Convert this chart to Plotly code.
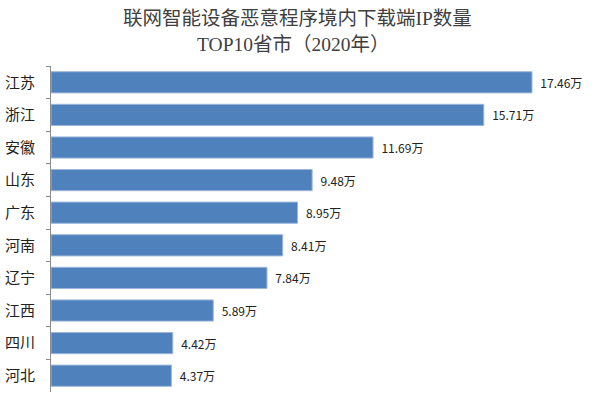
import plotly.graph_objects as go

provinces = ["江苏", "浙江", "安徽", "山东", "广东", "河南", "辽宁", "江西", "四川", "河北"]
values = [17.46, 15.71, 11.69, 9.48, 8.95, 8.41, 7.84, 5.89, 4.42, 4.37]
labels = ["  %.2f万" % v for v in values]
title_line1 = "联网智能设备恶意程序境内下载端IP数量"
title_line2 = "TOP10省市（2020年）"

fig = go.Figure(go.Bar(
    x=values, y=provinces, orientation="h",
    text=labels, textposition="outside", cliponaxis=False,
    textfont=dict(family="Noto Sans CJK SC, Noto Sans", size=12, color="#222222"),
    marker=dict(color="#4f81bd", line=dict(color="#9db7da", width=1)),
    hoverinfo="skip",
))

title_font = dict(family="Liberation Serif, Noto Sans CJK SC", size=19.5, color="#404040")
fig.add_annotation(text=title_line1, xref="paper", yref="paper", x=0.452, y=1.147,
                   xanchor="center", yanchor="middle", showarrow=False, font=title_font)
fig.add_annotation(text=title_line2, xref="paper", yref="paper", x=0.445, y=1.067,
                   xanchor="center", yanchor="middle", showarrow=False, font=title_font)

fig.update_layout(
    width=597, height=393,
    margin=dict(l=51, r=0, t=66, b=1, autoexpand=False),
    paper_bgcolor="white", plot_bgcolor="white",
    bargap=0.35,
    showlegend=False,
    xaxis=dict(range=[0, 19.82], visible=False),
    yaxis=dict(
        autorange="reversed", showline=True, linecolor="#8c8c8c", linewidth=1,
        ticks="outside", tickson="boundaries", ticklen=4, tickcolor="#8c8c8c",
        tickfont=dict(family="Noto Sans CJK SC", size=15, color="#222222"),
        ticklabelstandoff=12, automargin=False,
        showgrid=False,
    ),
)

fig.write_html("out.html", config={"displayModeBar": False},
               post_script="document.body.style.margin='0';")
